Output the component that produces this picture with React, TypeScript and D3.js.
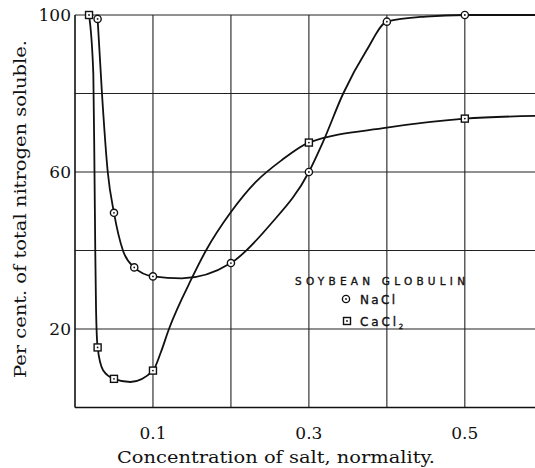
import React from 'react';
import * as d3 from 'd3';

// measured points (markers)
const naclX = [0.029, 0.05, 0.076, 0.1, 0.2, 0.3, 0.4, 0.5];
const naclY = [99, 49.6, 35.7, 33.4, 36.8, 60, 98.3, 100];
const caclX = [0.018, 0.029, 0.05, 0.1, 0.3, 0.5];
const caclY = [100, 15.3, 7.3, 9.4, 67.5, 73.6];

// curves
const naclCurveX = [0.029, 0.0346, 0.042, 0.05, 0.0615, 0.076, 0.1, 0.137, 0.2, 0.25, 0.3, 0.318, 0.344, 0.374, 0.4, 0.45, 0.5, 0.59];
const naclCurveY = [99, 80, 60, 49.6, 40, 35.7, 33.4, 32.9, 36.8, 46.5, 60, 67.6, 80, 91, 98.3, 99.6, 100, 100];
const caclCurveX = [0.018, 0.0235, 0.025, 0.026, 0.027, 0.029, 0.036, 0.05, 0.071, 0.1, 0.11, 0.1205, 0.15, 0.168, 0.2, 0.231, 0.265, 0.3, 0.4, 0.5, 0.59];
const caclCurveY = [100, 85, 60, 40, 25, 15.3, 9.5, 7.3, 6.5, 9.4, 14, 20, 33, 40, 49.8, 57.3, 63, 67.5, 71.3, 73.6, 74.3];

const xGrid = [0.1, 0.2, 0.3, 0.4, 0.5];
const xTickLabels = ['0.1', '0.3', '0.5'];
const yGrid = [20, 40, 60, 80, 100];
const yTickLabels = ['20', '60', '100'];

const W = 535;
const H = 468;
const serif = '"DejaVu Serif", "Liberation Serif", serif';
const sans = '"DejaVu Sans", "Liberation Sans", sans-serif';

const x = d3.scaleLinear().domain([0, 0.59]).range([75, 535]);
const y = d3.scaleLinear().domain([0, 100]).range([407.5, 15]);

const line = d3
    .line<[number, number]>()
    .x((d) => x(d[0]))
    .y((d) => y(d[1]))
    .curve(d3.curveMonotoneX);

const zip = (a: number[], b: number[]) => a.map((v, i) => [v, b[i]] as [number, number]);

const Circle = ({ cx, cy }: { cx: number; cy: number }) => (
    <g>
        <circle cx={cx} cy={cy} r={3.6} fill="#fff" stroke="#111" strokeWidth={1.4} />
        <circle cx={cx} cy={cy} r={0.9} fill="#111" />
    </g>
);

const Square = ({ cx, cy }: { cx: number; cy: number }) => (
    <g>
        <rect x={cx - 3.5} y={cy - 3.5} width={7} height={7} fill="#fff" stroke="#111" strokeWidth={1.4} />
        <circle cx={cx} cy={cy} r={0.9} fill="#111" />
    </g>
);

export default function App() {
    const x0 = x(0);
    const y0 = y(0);
    return (
        <svg
            width={W}
            height={H}
            style={{ position: 'absolute', left: 0, top: 0, background: '#fff' }}
        >
            {/* grid */}
            {yGrid.map((v) => (
                <line key={'h' + v} x1={x0} x2={W} y1={y(v)} y2={y(v)} stroke="#222" strokeWidth={1.2} />
            ))}
            {xGrid.map((v) => (
                <line key={'v' + v} x1={x(v)} x2={x(v)} y1={y(100)} y2={y0} stroke="#222" strokeWidth={1.1} />
            ))}
            {/* axes */}
            <line x1={x0} x2={x0} y1={y(100)} y2={y0} stroke="#111" strokeWidth={1.6} />
            <line x1={x0} x2={W} y1={y0} y2={y0} stroke="#111" strokeWidth={1.6} />

            {/* curves */}
            <path d={line(zip(naclCurveX, naclCurveY)) || ''} fill="none" stroke="#111" strokeWidth={1.8} />
            <path d={line(zip(caclCurveX, caclCurveY)) || ''} fill="none" stroke="#111" strokeWidth={1.8} />

            {naclX.map((v, i) => (
                <Circle key={'n' + i} cx={x(v)} cy={y(naclY[i])} />
            ))}
            {caclX.map((v, i) => (
                <Square key={'c' + i} cx={x(v)} cy={y(caclY[i])} />
            ))}

            {/* tick labels */}
            {yTickLabels.map((t) => (
                <text key={'yl' + t} x={71} y={y(+t)} dy="0.36em" textAnchor="end" fontFamily={serif} fontSize={17} fill="#111">
                    {t}
                </text>
            ))}
            {xTickLabels.map((t) => (
                <text key={'xl' + t} x={x(+t)} y={439} textAnchor="middle" fontFamily={serif} fontSize={17} fill="#111">
                    {t}
                </text>
            ))}

            {/* axis titles */}
            <text x={276} y={463} textAnchor="middle" fontFamily={serif} fontSize={16.5} fill="#111" textLength={318} lengthAdjust="spacingAndGlyphs">
                Concentration of salt, normality.
            </text>
            <text
                transform={`translate(26, 209) rotate(-90)`}
                textAnchor="middle"
                fontFamily={serif}
                fontSize={16.5}
                fill="#111"
                textLength={338}
                lengthAdjust="spacingAndGlyphs"
            >
                Per cent. of total nitrogen soluble.
            </text>

            {/* legend */}
            <g fill="#111" stroke="#111" strokeWidth={0.35} fontFamily={sans}>
                <text x={295} y={285} fontSize={10.5} textLength={170} lengthAdjust="spacing">
                    SOYBEAN GLOBULIN
                </text>
                <text x={360} y={303.5} fontSize={12} textLength={35} lengthAdjust="spacing">
                    NaCl
                </text>
                <text x={360} y={325.5} fontSize={12}>
                    <tspan textLength={36} lengthAdjust="spacing">CaCl</tspan>
                    <tspan fontSize={7} dy={3}>2</tspan>
                </text>
            </g>
            <Circle cx={346} cy={299} />
            <Square cx={347} cy={321} />
        </svg>
    );
}
